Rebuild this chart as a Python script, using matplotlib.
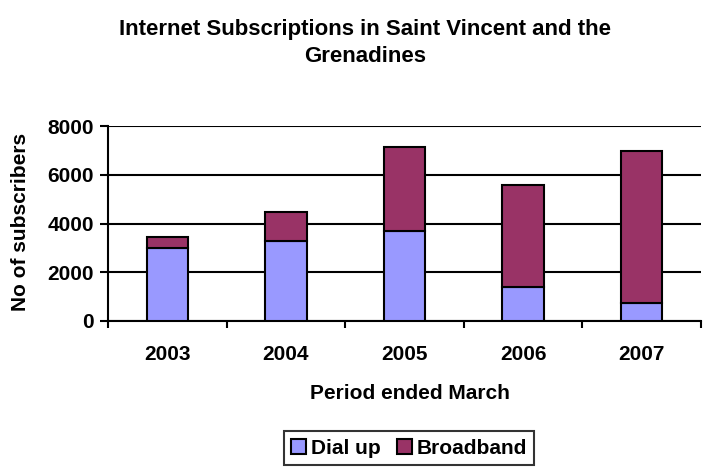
import matplotlib.pyplot as plt
import numpy as np

plt.rcParams['font.family'] = ['Liberation Sans', 'DejaVu Sans']
plt.rcParams['font.weight'] = 'bold'

years = ['2003', '2004', '2005', '2006', '2007']
dial_up = [3000, 3300, 3700, 1380, 730]
broadband = [460, 1160, 3420, 4190, 6260]

fig = plt.figure(figsize=(7.07, 4.70), dpi=100)
ax = fig.add_axes([108 / 707, 1 - 321 / 470, (701 - 108) / 707, (321 - 126) / 470])

x = np.arange(len(years))
ax.bar(x, dial_up, width=0.35, color='#9999ff', edgecolor='black', linewidth=1.5,
       label='Dial up', zorder=3)
ax.bar(x, broadband, width=0.35, bottom=dial_up, color='#993366', edgecolor='black',
       linewidth=1.5, label='Broadband', zorder=3)

ax.set_xlim(-0.5, len(years) - 0.5)
ax.set_ylim(0, 8000)
ax.set_yticks([0, 2000, 4000, 6000, 8000])
ax.yaxis.grid(True, color='black', linewidth=1.5, zorder=0)

# category labels centred under the bars, tick marks on the boundaries
ax.set_xticks(np.arange(len(years) + 1) - 0.5)
ax.set_xticklabels([])
ax.set_xticks(x, minor=True)
ax.set_xticklabels(years, minor=True, fontsize=15, fontweight='bold')
ax.tick_params(axis='x', which='minor', length=0, pad=17)
ax.tick_params(axis='x', which='major', length=5, width=1.5)
ax.tick_params(axis='y', length=6, width=1.5, labelsize=15, pad=4)
for lab in ax.get_yticklabels():
    lab.set_fontweight('bold')

for side in ['top', 'right']:
    ax.spines[side].set_visible(False)
for side in ['left', 'bottom']:
    ax.spines[side].set_linewidth(1.5)

ax.set_xlabel('Period ended March', fontsize=15, fontweight='bold')
ax.xaxis.set_label_coords((410 - 108) / (701 - 108), -(384 - 321) / (321 - 126))
ax.set_ylabel('No of subscribers', fontsize=15, fontweight='bold')
ax.yaxis.set_label_coords(-(108 - 30) / (701 - 108), (321 - 222) / (321 - 126))

fig.text(365 / 707, 1 - 43 / 470, 'Internet Subscriptions in Saint Vincent and the\nGrenadines',
         ha='center', va='center', fontsize=16, fontweight='bold', linespacing=1.4)

leg = fig.legend(loc='center', bbox_to_anchor=(409 / 707, 1 - 448 / 470), ncol=2,
                 frameon=True, fancybox=False, edgecolor='black', fontsize=15,
                 handlelength=0.72, handleheight=0.72, handletextpad=0.25,
                 columnspacing=0.75, borderpad=0.35, borderaxespad=0)
leg.get_frame().set_linewidth(1.5)

fig.savefig('out.png', dpi=100)
